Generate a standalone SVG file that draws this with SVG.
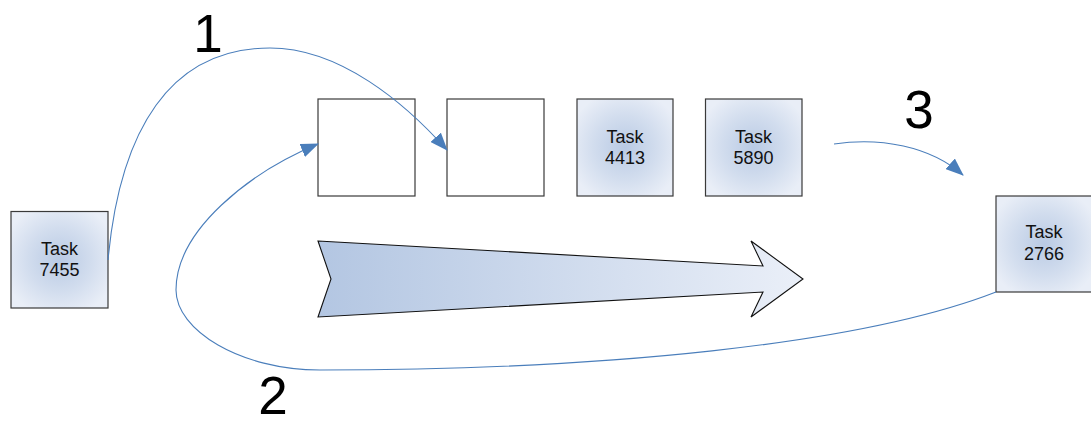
<svg xmlns="http://www.w3.org/2000/svg" width="1091" height="425" viewBox="0 0 1091 425">
  <defs>
    <radialGradient id="taskFill" cx="50%" cy="50%" r="60%">
      <stop offset="0" stop-color="#b9cae4"/>
      <stop offset="0.55" stop-color="#d2ddee"/>
      <stop offset="1" stop-color="#e9eef7"/>
    </radialGradient>
    <linearGradient id="flowFill" x1="318" y1="0" x2="803" y2="0" gradientUnits="userSpaceOnUse">
      <stop offset="0" stop-color="#b3c6e2"/>
      <stop offset="1" stop-color="#eaeff8"/>
    </linearGradient>
    <marker id="head" viewBox="0 0 18 14" refX="17" refY="7" markerWidth="18" markerHeight="14" markerUnits="userSpaceOnUse" orient="auto">
      <path d="M0,0 L18,7 L0,14 Z" fill="#4a7ebb"/>
    </marker>
  </defs>
  <style>
    .box { stroke: #3a3a3a; stroke-width: 1.2; }
    .task { fill: url(#taskFill); }
    .empty { fill: #ffffff; }
    .lbl { font-family: "Liberation Sans", Arial, sans-serif; font-size: 18px; fill: #111; text-anchor: middle; }
    .num { font-family: "Liberation Sans", Arial, sans-serif; font-size: 53px; fill: #000; text-anchor: middle; }
    .link { fill: none; stroke: #4a7ebb; stroke-width: 1.1; marker-end: url(#head); }
  </style>
  <rect width="1091" height="425" fill="#ffffff"/>

  <!-- large direction arrow -->
  <g id="flow-arrow">
    <path d="M318,241 L763,266 L751,241 L803,279 L751,317 L763,292 L318,317 L331,279 Z" fill="url(#flowFill)" stroke="#111" stroke-width="1.1" stroke-linejoin="miter"/>
  </g>

  <!-- queue slots and tasks -->
  <g id="task-7455">
    <rect class="box task" x="11" y="211.5" width="97" height="96.5"/>
    <text class="lbl" x="59.5" y="255">Task</text>
    <text class="lbl" x="59.5" y="276">7455</text>
  </g>
  <g id="slot-1">
    <rect class="box empty" x="318" y="99" width="97" height="97"/>
  </g>
  <g id="slot-2">
    <rect class="box empty" x="447" y="99" width="97" height="97"/>
  </g>
  <g id="task-4413">
    <rect class="box task" x="577" y="99" width="96" height="97"/>
    <text class="lbl" x="625" y="142.5">Task</text>
    <text class="lbl" x="625" y="164">4413</text>
  </g>
  <g id="task-5890">
    <rect class="box task" x="705.5" y="99" width="96.5" height="97"/>
    <text class="lbl" x="753.5" y="142.5">Task</text>
    <text class="lbl" x="753.5" y="164">5890</text>
  </g>
  <g id="task-2766">
    <rect class="box task" x="996" y="196" width="96" height="96"/>
    <text class="lbl" x="1044" y="237.5">Task</text>
    <text class="lbl" x="1044" y="260">2766</text>
  </g>

  <!-- connectors -->
  <g id="connectors">
    <path class="link" d="M108,260 C120,130 170,48 270,48 C340,48 405,103 447,150"/>
    <path class="link" d="M996,292 C860,345 600,370 320,370 C240,370 176,330 176,290 C176,230 250,172 318,144"/>
    <path class="link" d="M834,144 C880,137 930,146 963,175"/>
  </g>

  <!-- step numbers -->
  <g id="step-labels">
    <text class="num" x="208" y="52">1</text>
    <text class="num" x="273" y="414">2</text>
    <text class="num" x="919" y="128">3</text>
  </g>
</svg>
